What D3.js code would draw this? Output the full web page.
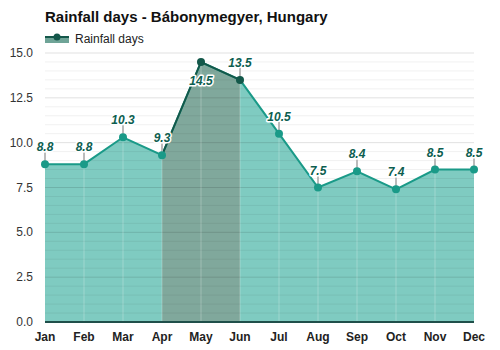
<!DOCTYPE html>
<html>
<head>
<meta charset="utf-8">
<script src="https://cdn.jsdelivr.net/npm/d3@7"></script>
<style>
  body { margin: 0; background: #fff; }
  svg { display: block; font-family: "Liberation Sans", Arial, sans-serif; }
</style>
</head>
<body>
<svg id="chart" width="500" height="350"></svg>
<script>
// Monthly rainfall days
const months = ["Jan","Feb","Mar","Apr","May","Jun","Jul","Aug","Sep","Oct","Nov","Dec"];
const rainDays = [8.8, 8.8, 10.3, 9.3, 14.5, 13.5, 10.5, 7.5, 8.4, 7.4, 8.5, 8.5];
const yTicks = [0, 2.5, 5, 7.5, 10, 12.5, 15];
// Months of the rainiest stretch, shaded darker
const peakStart = "Apr", peakEnd = "Jun";
const labelBelow = ["May"];

const svg = d3.select("#chart");
const x = d3.scalePoint().domain(months).range([45, 474]);
const y = d3.scaleLinear().domain([0, 15]).range([322, 53]);

const data = months.map((m, i) => ({ m, v: rainDays[i] }));

// Title & legend
svg.append("text").attr("x", 45).attr("y", 22)
  .attr("font-size", 15).attr("font-weight", "bold").attr("fill", "#111")
  .text("Rainfall days - Bábonymegyer, Hungary");
svg.append("rect").attr("x", 45).attr("y", 36).attr("width", 24).attr("height", 7).attr("fill", "#6fa497");
svg.append("line").attr("x1", 45).attr("x2", 69).attr("y1", 37).attr("y2", 37)
  .attr("stroke", "#14574a").attr("stroke-width", 2);
svg.append("circle").attr("cx", 57).attr("cy", 37).attr("r", 3.5).attr("fill", "#14574a");
svg.append("text").attr("x", 75).attr("y", 43).attr("font-size", 12).attr("fill", "#222")
  .text("Rainfall days");

// Area
const area = d3.area().x(d => x(d.m)).y0(y(0)).y1(d => y(d.v));
const line = d3.line().x(d => x(d.m)).y(d => y(d.v));

svg.append("path").datum(data).attr("d", area).attr("fill", "#7fcbc1");

// Darker peak section
const iS = months.indexOf(peakStart), iE = months.indexOf(peakEnd);
svg.append("clipPath").attr("id", "peak").append("rect")
  .attr("x", x(peakStart)).attr("y", 0)
  .attr("width", x(peakEnd) - x(peakStart)).attr("height", 350);
svg.append("path").datum(data).attr("d", area).attr("fill", "#80a89c")
  .attr("clip-path", "url(#peak)");

// Grid lines (every 0.5, stronger at labelled ticks)
const minor = d3.range(0.5, 15.01, 0.5);
svg.append("g").selectAll("line").data(minor).join("line")
  .attr("x1", 45).attr("x2", 474)
  .attr("y1", d => y(d)).attr("y2", d => y(d))
  .attr("stroke", d => (d % 2.5 === 0) ? "rgba(0,0,0,0.12)" : "rgba(0,0,0,0.06)")
  .attr("stroke-width", 1);

// Month dividers inside the area
svg.append("g").selectAll("line").data(data.slice(1, -1)).join("line")
  .attr("x1", d => x(d.m)).attr("x2", d => x(d.m))
  .attr("y1", d => y(d.v)).attr("y2", y(0))
  .attr("stroke", "rgba(255,255,255,0.25)");

// Baseline
svg.append("line").attr("x1", 45).attr("x2", 474).attr("y1", y(0)).attr("y2", y(0))
  .attr("stroke", "#1f4f4a").attr("stroke-width", 2);

// Line, light and dark sections
svg.append("path").datum(data).attr("d", line).attr("fill", "none")
  .attr("stroke", "#1a9a88").attr("stroke-width", 2);
svg.append("path").datum(data.slice(iS, iE + 1)).attr("d", line).attr("fill", "none")
  .attr("stroke", "#13584a").attr("stroke-width", 2);

// Label tick marks
svg.append("g").selectAll("line").data(data.filter(d => !labelBelow.includes(d.m))).join("line")
  .attr("x1", d => x(d.m)).attr("x2", d => x(d.m))
  .attr("y1", d => y(d.v)).attr("y2", d => y(d.v) - 12)
  .attr("stroke", "#bbb").attr("stroke-width", 2);

// Points
svg.append("g").selectAll("circle").data(data).join("circle")
  .attr("cx", d => x(d.m)).attr("cy", d => y(d.v)).attr("r", 4)
  .attr("fill", (d, i) => (i > iS && i <= iE) ? "#13584a" : "#1a9a88");

// Value labels
const lbl = svg.append("g").selectAll("text").data(data).join("text")
  .attr("x", d => x(d.m))
  .attr("y", d => labelBelow.includes(d.m) ? y(d.v) + 23 : y(d.v) - 13)
  .attr("text-anchor", "middle").attr("font-size", 12)
  .attr("font-weight", "bold").attr("font-style", "italic")
  .attr("fill", "#0d5e50")
  .attr("stroke", "#fff").attr("stroke-width", 3).attr("paint-order", "stroke")
  .attr("stroke-linejoin", "round")
  .text(d => d.v.toFixed(1));

// Y axis labels
svg.append("g").selectAll("text").data(yTicks).join("text")
  .attr("x", 33).attr("y", d => y(d) + 4)
  .attr("text-anchor", "end").attr("font-size", 12).attr("fill", "#333")
  .text(d => d.toFixed(1));

// X axis labels
svg.append("g").selectAll("text").data(months).join("text")
  .attr("x", d => x(d)).attr("y", 341)
  .attr("text-anchor", "middle").attr("font-size", 12).attr("font-weight", "bold")
  .attr("fill", "#222")
  .text(d => d);
</script>
</body>
</html>
